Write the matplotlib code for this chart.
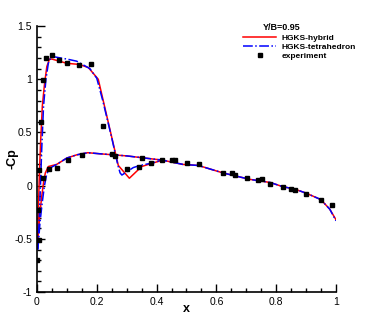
import matplotlib
matplotlib.use('Agg')
import matplotlib.pyplot as plt
from matplotlib.ticker import MultipleLocator

plt.rcParams['font.family'] = ['Liberation Sans', 'DejaVu Sans']

# HGKS-hybrid: upper surface then lower surface (x, -Cp)
hyb_up_x = [0.002, 0.005, 0.008, 0.012, 0.018, 0.025, 0.033, 0.042, 0.050, 0.100, 0.141,
            0.172, 0.205, 0.272, 0.309, 0.350, 0.384, 0.420]
hyb_up_y = [-0.55, -0.20, 0.10, 0.40, 0.75, 0.95, 1.12, 1.19, 1.19, 1.15, 1.14,
            1.11, 1.00, 0.19, 0.07, 0.18, 0.21, 0.24]
hyb_lo_x = [0.002, 0.006, 0.010, 0.016, 0.022, 0.028, 0.038, 0.066, 0.100, 0.133, 0.170,
            0.210, 0.300, 0.420, 0.488, 0.540, 0.622, 0.711, 0.780, 0.823, 0.860, 0.900,
            0.949, 0.979, 1.000]
hyb_lo_y = [-0.55, -0.40, -0.25, -0.10, 0.03, 0.12, 0.18, 0.20, 0.26, 0.29, 0.31,
            0.30, 0.28, 0.24, 0.20, 0.19, 0.12, 0.06, 0.03, -0.01, -0.03, -0.07,
            -0.13, -0.22, -0.32]

# HGKS-tetrahedron
tet_up_x = [0.003, 0.007, 0.011, 0.016, 0.022, 0.030, 0.038, 0.046, 0.060, 0.100, 0.133,
            0.177, 0.200, 0.220, 0.250, 0.270, 0.278, 0.284, 0.295, 0.322, 0.344, 0.380, 0.420]
tet_up_y = [-0.60, -0.35, -0.05, 0.35, 0.75, 1.00, 1.15, 1.20, 1.21, 1.19, 1.17,
            1.10, 1.01, 0.80, 0.45, 0.20, 0.12, 0.10, 0.12, 0.17, 0.19, 0.21, 0.24]
tet_lo_x = [0.003, 0.010, 0.018, 0.025, 0.032, 0.040, 0.066, 0.100, 0.133, 0.170,
            0.210, 0.300, 0.420, 0.488, 0.540, 0.622, 0.711, 0.780, 0.823, 0.860, 0.900,
            0.949, 0.979, 1.000]
tet_lo_y = [-0.60, -0.35, -0.15, 0.00, 0.10, 0.16, 0.20, 0.26, 0.29, 0.31,
            0.30, 0.28, 0.24, 0.20, 0.19, 0.12, 0.06, 0.03, -0.01, -0.03, -0.07,
            -0.13, -0.22, -0.33]

# experiment
exp_x = [0.001, 0.007, 0.002, 0.012, 0.021, 0.031, 0.051, 0.074, 0.100, 0.141, 0.182,
         0.220, 0.302, 0.342, 0.381, 0.419, 0.007, 0.021, 0.040, 0.067, 0.103, 0.152,
         0.250, 0.261, 0.350, 0.452, 0.461, 0.502, 0.541, 0.621, 0.651, 0.661, 0.701,
         0.740, 0.751, 0.780, 0.823, 0.848, 0.862, 0.901, 0.949, 0.987]
exp_y = [-0.70, -0.51, -0.23, 0.60, 0.99, 1.20, 1.23, 1.18, 1.15, 1.13, 1.14,
         0.56, 0.16, 0.18, 0.21, 0.24, 0.15, 0.07, 0.16, 0.17, 0.24, 0.29,
         0.30, 0.28, 0.26, 0.24, 0.24, 0.21, 0.20, 0.12, 0.12, 0.10, 0.07,
         0.05, 0.06, 0.02, -0.01, -0.03, -0.04, -0.08, -0.13, -0.18]

fig = plt.figure(figsize=(3.66, 3.26), dpi=100)
ax = fig.add_axes([0.101, 0.104, 0.817, 0.816])

ax.plot(hyb_up_x, hyb_up_y, color='red', lw=1.1, label='HGKS-hybrid')
ax.plot(hyb_lo_x, hyb_lo_y, color='red', lw=1.1)
ax.plot(tet_up_x, tet_up_y, color='blue', lw=1.1, ls='-.', label='HGKS-tetrahedron')
ax.plot(tet_lo_x, tet_lo_y, color='blue', lw=1.1, ls='-.')
ax.plot(exp_x, exp_y, 's', color='black', ms=3.5, ls='none', label='experiment')

ax.set_xlim(0, 1)
ax.set_ylim(-1, 1.5)
ax.xaxis.set_major_locator(MultipleLocator(0.2))
ax.xaxis.set_minor_locator(MultipleLocator(0.05))
ax.yaxis.set_major_locator(MultipleLocator(0.5))
ax.yaxis.set_minor_locator(MultipleLocator(0.1))
ax.xaxis.set_major_formatter(plt.FuncFormatter(lambda v, p: f'{v:g}'))
ax.yaxis.set_major_formatter(plt.FuncFormatter(lambda v, p: f'{v:g}'))
ax.tick_params(which='both', direction='in', labelsize=7.5, width=1)
ax.tick_params(which='major', length=6)
ax.tick_params(which='minor', length=3)
ax.spines['top'].set_visible(False)
ax.spines['right'].set_visible(False)
ax.spines['left'].set_linewidth(1.2)
ax.spines['bottom'].set_linewidth(1.2)

ax.set_xlabel('x', fontsize=9, fontweight='bold', labelpad=-3)
ax.set_ylabel('-Cp', fontsize=9, fontweight='bold', labelpad=-3)

# legend title placed separately, as in the original
fig.text(282 / 366, 1 - 28 / 326, 'Y/B=0.95', ha='center', va='center',
         fontsize=6.5, fontweight='bold')
leg = ax.legend(loc='upper left', bbox_to_anchor=(0.67, 0.99),
                frameon=False, handlelength=4, handletextpad=0.6,
                labelspacing=0.1, borderpad=0.2, prop={'weight': 'bold', 'size': 6})

fig.savefig('out.png', dpi=100)
